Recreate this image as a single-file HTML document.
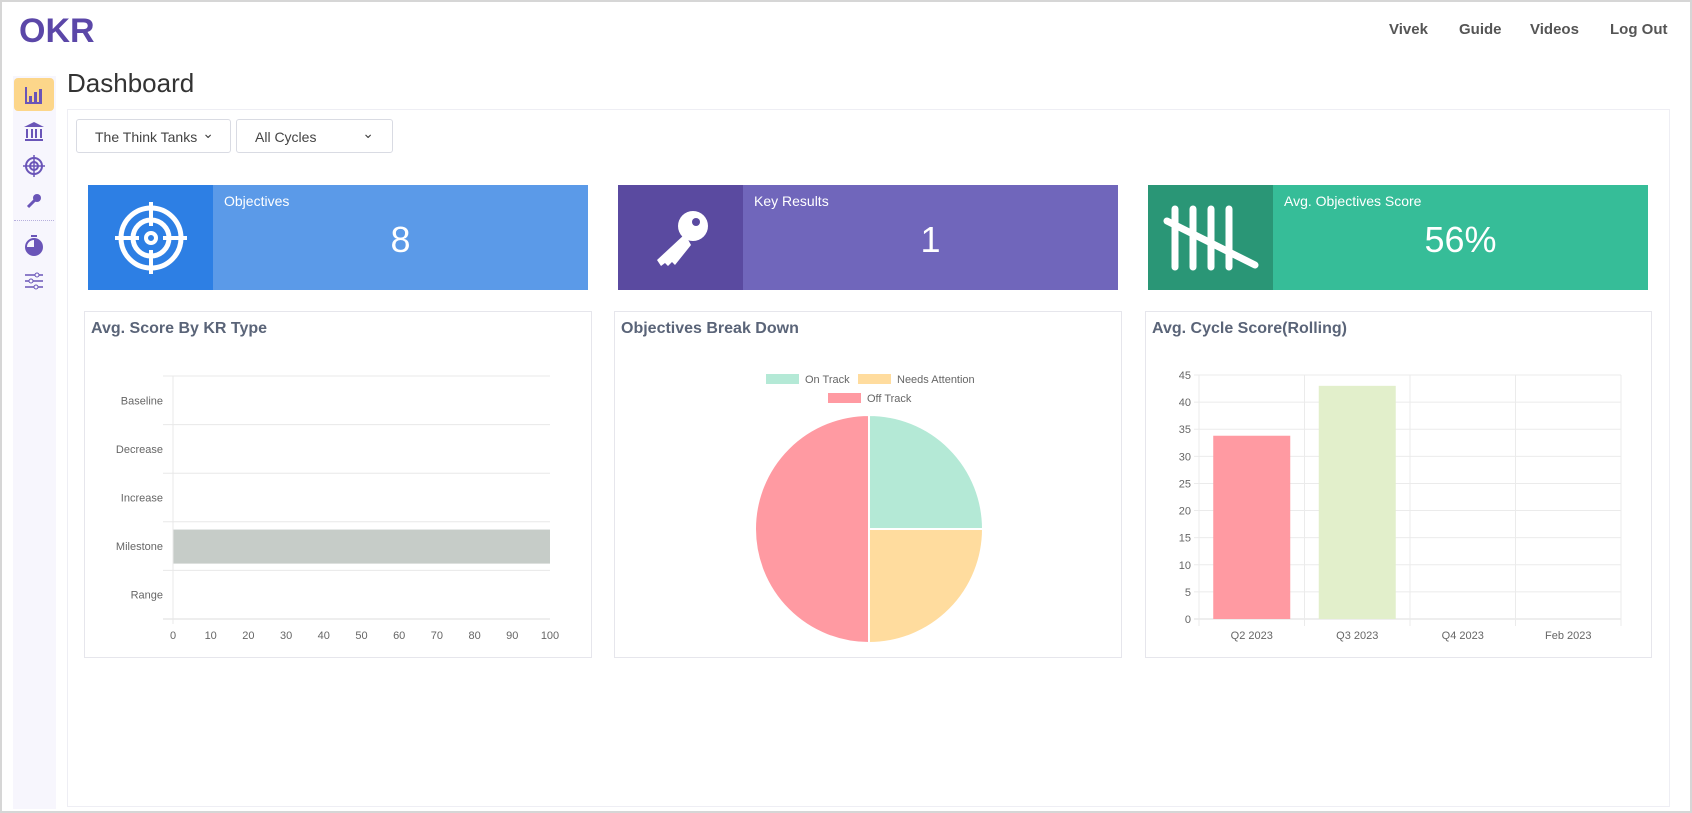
<!DOCTYPE html>
<html><head><meta charset="utf-8">
<style>
*{box-sizing:border-box;margin:0;padding:0}
body{width:1692px;height:813px;overflow:hidden;background:#fff;font-family:"Liberation Sans",sans-serif;position:relative}
.frame{position:absolute;left:0;top:0;width:1692px;height:813px;border:2px solid #d6d6d6}
.abs{position:absolute}
.nav a{position:absolute;top:21px;font-size:15px;font-weight:bold;color:#555;text-decoration:none}
.sidebar{left:13px;top:76px;width:43px;height:733px;background:#f7f6fd}
.ico{position:absolute;left:14px;width:40px;height:34px;display:flex;align-items:center;justify-content:center}
.panel{left:67px;top:109px;width:1603px;height:698px;background:#fff;border:1px solid #eeeef4}
.dd{top:119px;height:34px;border:1px solid #d9dbe3;border-radius:3px;background:#fff;font-size:14px;color:#444;padding:9px 18px;white-space:nowrap}
.dd span{position:absolute;top:5px;font-size:14px}
.card{top:185px;height:105px;color:#fff}
.card .ic{position:absolute;left:0;top:0;width:125px;height:105px;display:flex;align-items:center;justify-content:center}
.card .lbl{position:absolute;left:136px;top:8px;font-size:14px}
.card .val{position:absolute;left:125px;right:0;top:34px;text-align:center;font-size:36px}
.box{top:311px;height:347px;border:1px solid #e6e6ec;background:#fff}
.box .t{position:absolute;left:6px;top:8px;font-size:16px;font-weight:bold;color:#5a6478}
svg text{font-family:"Liberation Sans",sans-serif;font-size:11px;fill:#666}
</style></head><body>
<div class="frame"></div>
<div class="abs" style="left:19px;top:12px;font-size:34px;font-weight:bold;color:#5b47a8">OKR</div>
<div class="nav">
<a style="left:1389px">Vivek</a>
<a style="left:1459px">Guide</a>
<a style="left:1530px">Videos</a>
<a style="left:1610px">Log Out</a>
</div>
<div class="abs sidebar"></div>
<div class="ico" style="top:78px;height:33px;background:#fcd68a;border-radius:4px"><svg width="20" height="20"><path d="M2 2v16h16" stroke="#6a55b8" stroke-width="2" fill="none"/><rect x="5" y="11" width="3" height="6" fill="#6a55b8"/><rect x="10" y="7" width="3" height="10" fill="#6a55b8"/><rect x="15" y="4" width="3" height="13" fill="#6a55b8"/></svg></div>
<div class="ico" style="top:114px"><svg width="22" height="20"><path d="M11 1L1 6h20z M2 18h18v2H2z" fill="#6a55b8"/><rect x="3" y="8" width="2" height="9" fill="#6a55b8"/><rect x="8" y="8" width="2" height="9" fill="#6a55b8"/><rect x="12" y="8" width="2" height="9" fill="#6a55b8"/><rect x="17" y="8" width="2" height="9" fill="#6a55b8"/></svg></div>
<div class="ico" style="top:149px"><svg width="22" height="22"><circle cx="11" cy="11" r="8" stroke="#6a55b8" stroke-width="2" fill="none"/><circle cx="11" cy="11" r="4" stroke="#6a55b8" stroke-width="2" fill="none"/><path d="M11 0v22M0 11h22" stroke="#6a55b8" stroke-width="1.5"/></svg></div>
<div class="ico" style="top:184px"><svg width="16" height="16"><circle cx="11" cy="5" r="4" fill="#6a55b8"/><path d="M9 7L2 14" stroke="#6a55b8" stroke-width="3"/></svg></div>
<div class="abs" style="left:14px;top:220px;width:40px;border-top:1px dotted #b7b0dd"></div>
<div class="ico" style="top:228px"><svg width="20" height="22"><circle cx="10" cy="13" r="8" stroke="#6a55b8" stroke-width="2" fill="none"/><path d="M10 13V5a8 8 0 1 1-8 8z" fill="#6a55b8"/><rect x="7" y="1" width="6" height="2" fill="#6a55b8"/></svg></div>
<div class="ico" style="top:264px"><svg width="20" height="20"><path d="M1 4h18M1 10h18M1 16h18" stroke="#6a55b8" stroke-width="1.5"/><circle cx="13" cy="4" r="2" fill="#f7f6fd" stroke="#6a55b8"/><circle cx="7" cy="10" r="2" fill="#f7f6fd" stroke="#6a55b8"/><circle cx="12" cy="16" r="2" fill="#f7f6fd" stroke="#6a55b8"/></svg></div>
<div class="abs" style="left:67px;top:68px;font-size:26px;color:#333">Dashboard</div>
<div class="abs panel"></div>
<div class="abs dd" style="left:76px;width:155px">The Think Tanks<span style="right:16px">&#8964;</span></div>
<div class="abs dd" style="left:236px;width:157px">All Cycles<span style="right:18px">&#8964;</span></div>

<div class="abs card" style="left:88px;width:500px;background:#5b9ae8">
<div class="ic" style="background:#2d7fe4"><svg width="72" height="96" viewBox="0 0 72 96"><circle cx="36" cy="48" r="30" stroke="#fff" stroke-width="5" fill="none"/><circle cx="36" cy="48" r="18" stroke="#fff" stroke-width="5" fill="none"/><circle cx="36" cy="48" r="5" stroke="#fff" stroke-width="4" fill="none"/><path d="M36 12v24M36 60v24M0 48h24M48 48h24" stroke="#fff" stroke-width="4"/></svg></div>
<div class="lbl">Objectives</div><div class="val">8</div></div>
<div class="abs card" style="left:618px;width:500px;background:#7066bb">
<div class="ic" style="background:#5a4aa0"><svg width="60" height="60"><circle cx="42" cy="18" r="15" fill="#fff"/><circle cx="45" cy="14" r="4" fill="#5a4aa0"/><path d="M34 26L6 52l4 6 4-3 3 3 4-4 3 3 16-20z" fill="#fff"/></svg></div>
<div class="lbl">Key Results</div><div class="val">1</div></div>
<div class="abs card" style="left:1148px;width:500px;background:#36bd98">
<div class="ic" style="background:#2a9676"><svg width="96" height="70"><g stroke="#fff" stroke-width="7" stroke-linecap="round"><path d="M12 6v58M30 6v58M48 6v58M66 6v58M4 18l88 44"/></g></svg></div>
<div class="lbl">Avg. Objectives Score</div><div class="val">56%</div></div>

<div class="abs box" style="left:84px;width:508px"><div class="t">Avg. Score By KR Type</div></div>
<div class="abs box" style="left:614px;width:508px"><div class="t">Objectives Break Down</div></div>
<div class="abs box" style="left:1145px;width:507px"><div class="t">Avg. Cycle Score(Rolling)</div></div>

<svg class="abs" id="chart" width="1692" height="813" style="left:0;top:0"></svg>
<script>
const krCategories=["Baseline","Decrease","Increase","Milestone","Range"];
const krValues=[0,0,0,100,0];
const krTicks=[0,10,20,30,40,50,60,70,80,90,100];
const pieLabels=["On Track","Needs Attention","Off Track"];
const pieValues=[2,2,4];
const pieColors=["#b4e9d6","#ffdc9e","#ff9aa2"];
const cycleCategories=["Q2 2023","Q3 2023","Q4 2023","Feb 2023"];
const cycleValues=[33.8,43,0,0];
const cycleColors=["#ff9aa2","#e2efcb","#c8e6ff","#d7c8f0"];
const cycleTicks=[0,5,10,15,20,25,30,35,40,45];

const svg=document.getElementById('chart');
const NS='http://www.w3.org/2000/svg';
function mk(tag,attrs,parent){const e=document.createElementNS(NS,tag);for(const k in attrs)e.setAttribute(k,attrs[k]);(parent||svg).appendChild(e);return e;}

// Chart 1: horizontal bar
const g1=mk('g',{});


const x1=v=>173+(v-0)/(100-0)*(550-173);
const bandTop=376,bandH=(619-376)/krCategories.length;
krCategories.forEach((c,i)=>{
  const ln=mk('line',{x1:163,x2:550,y1:bandTop+i*bandH,y2:bandTop+i*bandH,stroke:'#e8e8e8'},g1);
  
  
  const t=mk('text',{x:163,y:bandTop+(i+0.5)*bandH+4,'text-anchor':'end'},g1);t.textContent=c;
  
  
  if(krValues[i]>0){const b=mk('rect',{x:x1(0),y:bandTop+i*bandH+bandH*0.16,width:x1(krValues[i])-x1(0),height:bandH*0.7,fill:'#c6ccc8'},g1);
  
  }
});
mk('line',{x1:163,x2:550,y1:619,y2:619,stroke:'#ddd'},g1);
mk('line',{x1:173,x2:173,y1:376,y2:624,stroke:'#e8e8e8'},g1);
krTicks.forEach(v=>{const t=mk('text',{x:x1(v),y:639,'text-anchor':'middle'},g1);t.textContent=v;
  
  });

// Chart 2: pie
const g2=mk('g',{});


const cx=869,cy=529,r=114,tot=pieValues.reduce((a,b)=>a+b,0);
let a0=-Math.PI/2;
pieValues.forEach((v,i)=>{
  const a1=a0+v/tot*2*Math.PI;
  const large=(a1-a0)>Math.PI?1:0;
  const d=`M${cx},${cy}L${cx+r*Math.cos(a0)},${cy+r*Math.sin(a0)}A${r},${r} 0 ${large} 1 ${cx+r*Math.cos(a1)},${cy+r*Math.sin(a1)}Z`;
  const p=mk('path',{d:d,fill:pieColors[i],stroke:'#fff','stroke-width':2},g2);
  
  
  a0=a1;
});
const legPos=[[766,376],[858,376],[828,395]];
pieLabels.forEach((l,i)=>{
  const [lx,ly]=legPos[i];
  const b=mk('rect',{x:lx,y:ly-2,width:33,height:10,fill:pieColors[i]},g2);
  
  
  const t=mk('text',{x:lx+39,y:ly+7},g2);t.textContent=l;
  
  
});

// Chart 3: vertical bar
const g3=mk('g',{});


const y3=v=>619-(v/45)*(619-375);
const L=1199,R=1621,bw=(R-L)/cycleCategories.length;
cycleTicks.forEach(v=>{
  const ln=mk('line',{x1:L-5,x2:R,y1:y3(v),y2:y3(v),stroke:v===0?'#ddd':'#ebebeb'},g3);
  
  
  const t=mk('text',{x:L-8,y:y3(v)+4,'text-anchor':'end'},g3);t.textContent=v;
  
  
});
for(let i=0;i<=cycleCategories.length;i++){mk('line',{x1:L+i*bw,x2:L+i*bw,y1:375,y2:626,stroke:'#ebebeb'},g3);}
cycleCategories.forEach((c,i)=>{
  if(cycleValues[i]>0){const b=mk('rect',{x:L+i*bw+bw*0.135,y:y3(cycleValues[i]),width:bw*0.73,height:619-y3(cycleValues[i]),fill:cycleColors[i]},g3);
  
  }
  const t=mk('text',{x:L+(i+0.5)*bw,y:639,'text-anchor':'middle'},g3);t.textContent=c;
  
  
});
</script>
</body></html>
